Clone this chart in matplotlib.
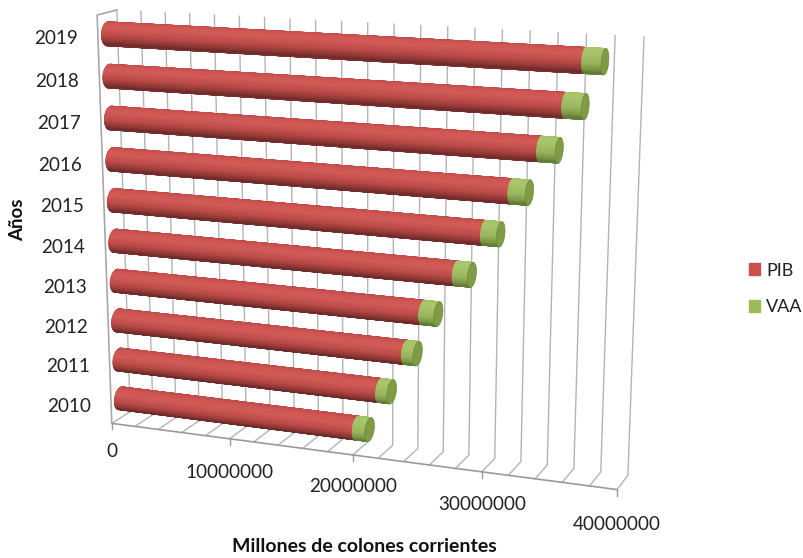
import numpy as np
import matplotlib
matplotlib.use('Agg')
from matplotlib import pyplot as plt
from matplotlib.collections import PolyCollection
from matplotlib.patches import Patch

plt.rcParams['font.family'] = ['Lato', 'DejaVu Sans']

years = [2010, 2011, 2012, 2013, 2014, 2015, 2016, 2017, 2018, 2019]
pib = [19.75e6, 21.6e6, 23.6e6, 24.9e6, 27.4e6, 29.45e6, 31.4e6, 33.4e6, 35.1e6, 36.4e6]
vaa = [0.99e6, 0.88e6, 0.88e6, 1.14e6, 1.14e6, 1.17e6, 1.25e6, 1.32e6, 1.37e6, 1.35e6]
x_ticks = [0, 10000000, 20000000, 30000000, 40000000]
x_max = 40000000
grid_step = 2000000

# box corners (value, depth, height) and where they fall on the picture
box = np.array([[0, 0, 0], [1, 0, 0], [0, 1, 0], [1, 1, 0], [0, 0, 1], [0, 1, 1], [1, 1, 1]], float)
pix = np.array([[112, 423], [617, 490], [130, 412], [628, 475], [97, 15], [117, 10], [644, 37]], float)

A, b = [], []
for (X, Y, Z), (px, py) in zip(box, pix):
    A.append([X, Y, Z, 1, 0, 0, 0, 0, -px * X, -px * Y, -px * Z])
    A.append([0, 0, 0, 0, X, Y, Z, 1, -py * X, -py * Y, -py * Z])
    b += [px, py]
P = np.append(np.linalg.lstsq(np.array(A), np.array(b), rcond=None)[0], 1).reshape(3, 4)


def project(v, d, h):
    v, d, h = np.broadcast_arrays(np.asarray(v, float) / x_max, d, h)
    q = P @ np.array([v, d, h, np.ones_like(v)])
    return np.array([q[0] / q[2], q[1] / q[2]]).T


red_stops = ['#bd4946', '#cf5855', '#d25b58', '#bb4b48', '#8c3734', '#6e2b2c']
green_stops = ['#a3bf68', '#a9c76c', '#a5c268', '#98b45d', '#789345', '#5f7a35']
stop_pos = [-1, -0.55, -0.1, 0.5, 0.9, 1]


def shade(stops, s):
    rgb = np.array([matplotlib.colors.to_rgb(c) for c in stops])
    return np.array([np.interp(s, stop_pos, rgb[:, i]) for i in range(3)]).T


def cylinder(ax, v0, v1, h, stops, cap=None, start=False):
    t = np.linspace(0, 2 * np.pi, 145)
    r_d, r_h = 0.33, 0.028
    ds = 0.5 + r_d * np.cos(t)
    hs = h + r_h * np.sin(t)
    a = project(np.full(145, v0), ds, hs)
    c = project(np.full(145, v1), ds, hs)
    if start:
        ax.fill(a[:, 0], a[:, 1], color=stops[2], lw=0, zorder=3)
    polys, ss = [], []
    for i in range(144):
        q = np.array([a[i], c[i], c[i + 1], a[i + 1]])
        area = np.sum(q[:, 0] * np.roll(q[:, 1], -1) - np.roll(q[:, 0], -1) * q[:, 1])
        if area < 0:
            continue
        polys.append(q)
        # position across the bar, measured on the angle so every slice gets one flat colour
        ss.append(-np.sin((t[i] + t[i + 1]) / 2 + 0.5))
    cols = shade(stops, np.clip(ss, -1, 1))
    ax.add_collection(PolyCollection(polys, facecolors=cols, edgecolors=cols, linewidths=0.5, zorder=4))
    if cap:
        ax.fill(c[:, 0], c[:, 1], facecolor=cap, edgecolor='#6f8a3c', lw=0.5, zorder=5)


fig = plt.figure(figsize=(8.04, 5.58), dpi=100)
ax = fig.add_axes([0, 0, 1, 1])
ax.set_xlim(0, 804)
ax.set_ylim(558, 0)
ax.axis('off')

# walls and floor
grid = '#b4b4b4'
for v in range(0, x_max + 1, grid_step):
    line = project([v, v, v], [0, 1, 1], [0, 0, 1])
    ax.plot(line[:, 0], line[:, 1], color=grid, lw=1, zorder=1)
front = project([0, x_max], [0, 0], [0, 0])
ax.plot(front[:, 0], front[:, 1], color='#9a9a9a', lw=1.2, zorder=2)
left = project([0, 0, 0], [0, 0, 1], [0, 1, 1])
ax.plot(left[:, 0], left[:, 1], color='#a8a8a8', lw=1.2, zorder=2)

for v, dy in zip(x_ticks, [28, 34, 32, 33, 35]):
    x, y = project(v, 0, 0)
    ax.plot([x, x], [y, y + 6], color='#9a9a9a', lw=1, zorder=2)
    ax.text(x, y + dy, str(v), ha='center', va='center', fontsize=13.6, color='#222222')

for i, yr in enumerate(years):
    h = (i + 0.5) / len(years)
    cylinder(ax, 0, pib[i], h, red_stops, start=True)
    cylinder(ax, pib[i], pib[i] + vaa[i], h, green_stops, cap='#7f9c45')
    x, y = project(0, 0, h)
    ax.text(x - 42, y + 2, str(yr), ha='center', va='center', fontsize=13.6, color='#222222')

ax.text(18, 220, 'Años', rotation=90, ha='center', va='center', fontsize=13.5, fontweight='bold', color='#111111')
ax.text(364, 547, 'Millones de colones corrientes', ha='center', va='center', fontsize=14, fontweight='bold', color='#111111')

handles = [Patch(color='#c9504d', label='PIB'), Patch(color='#9bbb59', label='VAA')]
ax.legend(handles=handles, loc='center left', bbox_to_anchor=(0.931, 0.482), frameon=False, fontsize=13,
          handlelength=0.65, handleheight=0.65, handletextpad=0.32, labelspacing=1.15, labelcolor='#222222',
          borderpad=0, borderaxespad=0)

fig.savefig('out.png', dpi=100)
